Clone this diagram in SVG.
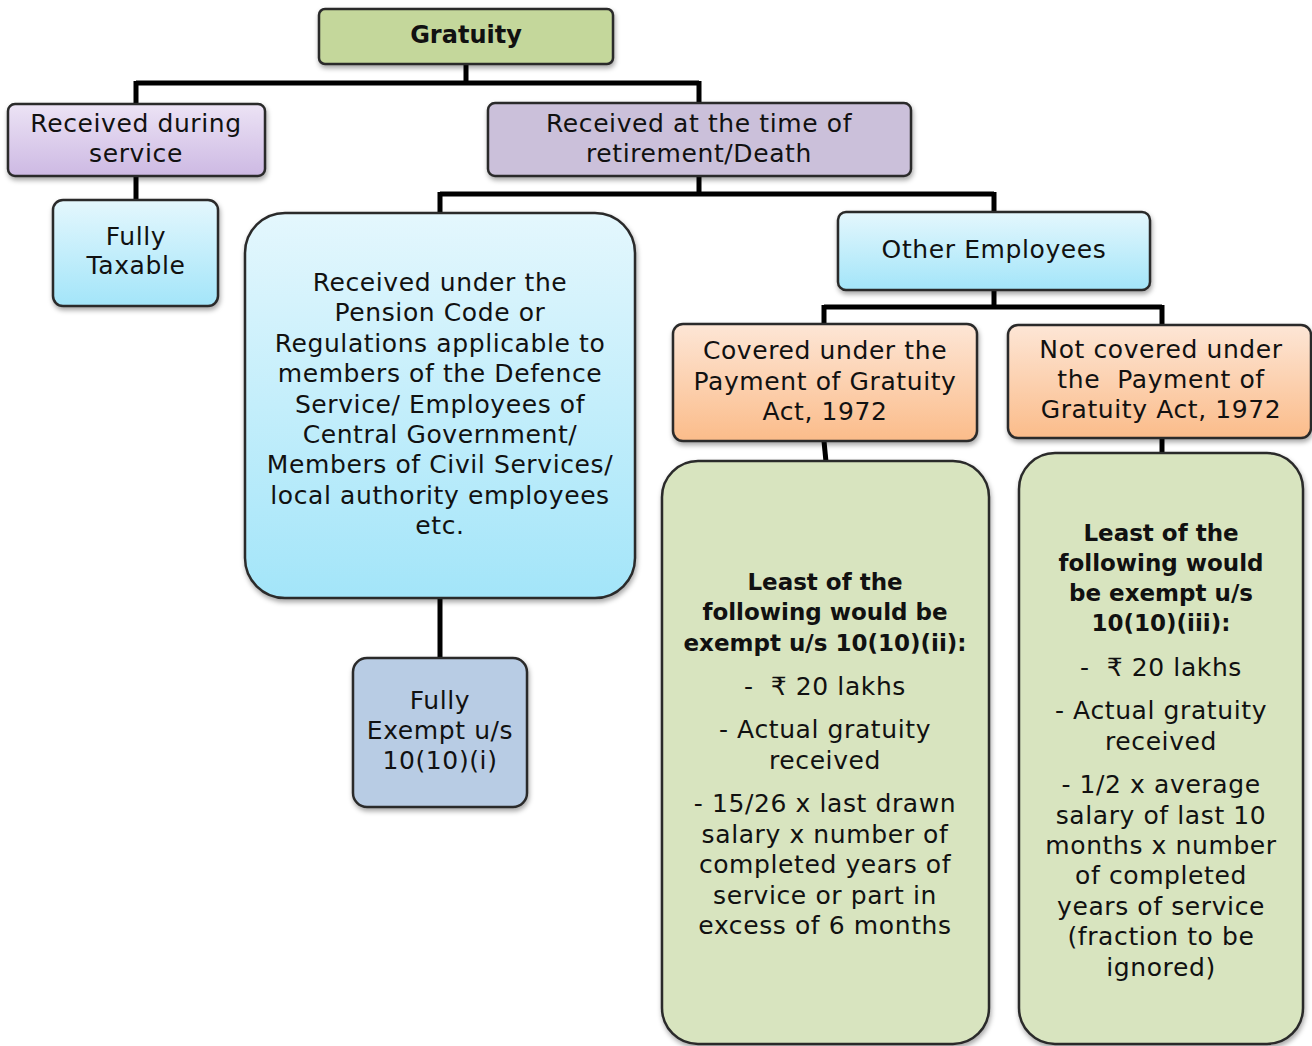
<svg xmlns="http://www.w3.org/2000/svg" width="1312" height="1046" viewBox="0 0 1312 1046">
<defs>
<linearGradient id="gPurple" x1="0" y1="0" x2="0" y2="1"><stop offset="0" stop-color="#ece3f5"/><stop offset="1" stop-color="#cdb9e3"/></linearGradient>
<linearGradient id="gBlue" x1="0" y1="0" x2="0" y2="1"><stop offset="0" stop-color="#e4f7fd"/><stop offset="1" stop-color="#a3e5f9"/></linearGradient>
<linearGradient id="gOrange" x1="0" y1="0" x2="0" y2="1"><stop offset="0" stop-color="#fde6d6"/><stop offset="1" stop-color="#fbbc8a"/></linearGradient>
<filter id="sh" x="-10%" y="-10%" width="120%" height="130%"><feDropShadow dx="1" dy="3" stdDeviation="2.5" flood-color="#000" flood-opacity="0.35"/></filter>
</defs>
<style>
.box{stroke:#2b2b2b;stroke-width:2.5;filter:url(#sh)}
.t{font-family:"DejaVu Sans","Noto Sans",sans-serif;font-size:25px;letter-spacing:0.6px;fill:#111;text-anchor:middle}
.b{font-weight:bold;font-size:23px;letter-spacing:0}
.g{font-size:24px}
.c{stroke:#000;stroke-width:5;fill:none}
</style>
<g id="connectors">
<path class="c" d="M466 64V83M136 83H699M136 81V104M699 81V103"/>
<path class="c" d="M136 176V200"/>
<path class="c" d="M699 176V194M440 194H994M440 192V214M994 192V213"/>
<path class="c" d="M994 290V307M824 307H1162M824 305V324M1162 305V325"/>
<path class="c" d="M824 441L826 462"/>
<path class="c" d="M1162 438V454"/>
<path class="c" d="M440 598V658"/>
</g>
<g id="gratuity">
<rect class="box" x="319" y="9" width="294" height="55" rx="6" fill="#c4d79b"/>
<text class="t b g" x="466" y="43">Gratuity</text>
</g>
<g id="during-service">
<rect class="box" x="8" y="104" width="257" height="72" rx="7" fill="url(#gPurple)"/>
<text class="t" x="136" y="132">Received during</text>
<text class="t" x="136" y="162">service</text>
</g>
<g id="retirement">
<rect class="box" x="488" y="103" width="423" height="73" rx="7" fill="#cbc0da"/>
<text class="t" x="699" y="132">Received at the time of</text>
<text class="t" x="699" y="162">retirement/Death</text>
</g>
<g id="fully-taxable">
<rect class="box" x="53" y="200" width="165" height="106" rx="10" fill="url(#gBlue)"/>
<text class="t" x="136" y="245">Fully</text>
<text class="t" x="136" y="274">Taxable</text>
</g>
<g id="pension">
<rect class="box" x="245" y="213" width="390" height="385" rx="40" fill="url(#gBlue)"/>
<text class="t" x="440" y="291">Received under the</text>
<text class="t" x="440" y="321">Pension Code or</text>
<text class="t" x="440" y="352">Regulations applicable to</text>
<text class="t" x="440" y="382">members of the Defence</text>
<text class="t" x="440" y="413">Service/ Employees of</text>
<text class="t" x="440" y="443">Central Government/</text>
<text class="t" x="440" y="473">Members of Civil Services/</text>
<text class="t" x="440" y="504">local authority employees</text>
<text class="t" x="440" y="534">etc.</text>
</g>
<g id="fully-exempt">
<rect class="box" x="353" y="658" width="174" height="149" rx="14" fill="#b8cce4"/>
<text class="t" x="440" y="709">Fully</text>
<text class="t" x="440" y="739">Exempt u/s</text>
<text class="t" x="440" y="769">10(10)(i)</text>
</g>
<g id="other-employees">
<rect class="box" x="838" y="212" width="312" height="78" rx="8" fill="url(#gBlue)"/>
<text class="t" x="994" y="258">Other Employees</text>
</g>
<g id="covered">
<rect class="box" x="673" y="324" width="304" height="117" rx="10" fill="url(#gOrange)"/>
<text class="t" x="825" y="359">Covered under the</text>
<text class="t" x="825" y="390">Payment of Gratuity</text>
<text class="t" x="825" y="420">Act, 1972</text>
</g>
<g id="not-covered">
<rect class="box" x="1008" y="325" width="303" height="113" rx="10" fill="url(#gOrange)"/>
<text class="t" x="1161" y="358">Not covered under</text>
<text class="t" x="1161" y="388" xml:space="preserve">the  Payment of</text>
<text class="t" x="1161" y="418">Gratuity Act, 1972</text>
</g>
<g id="exempt-ii">
<rect class="box" x="662" y="461" width="327" height="583" rx="36" fill="#d8e4bf"/>
<text class="t b" x="825" y="590">Least of the</text>
<text class="t b" x="825" y="620">following would be</text>
<text class="t b" x="825" y="651">exempt u/s 10(10)(ii):</text>
<text class="t" x="825" y="695" xml:space="preserve">-  ₹ 20 lakhs</text>
<text class="t" x="825" y="738">- Actual gratuity</text>
<text class="t" x="825" y="769">received</text>
<text class="t" x="825" y="812">- 15/26 x last drawn</text>
<text class="t" x="825" y="843">salary x number of</text>
<text class="t" x="825" y="873">completed years of</text>
<text class="t" x="825" y="904">service or part in</text>
<text class="t" x="825" y="934">excess of 6 months</text>
</g>
<g id="exempt-iii">
<rect class="box" x="1019" y="453" width="284" height="591" rx="36" fill="#d8e4bf"/>
<text class="t b" x="1161" y="541">Least of the</text>
<text class="t b" x="1161" y="571">following would</text>
<text class="t b" x="1161" y="601">be exempt u/s</text>
<text class="t b" x="1161" y="631">10(10)(iii):</text>
<text class="t" x="1161" y="676" xml:space="preserve">-  ₹ 20 lakhs</text>
<text class="t" x="1161" y="719">- Actual gratuity</text>
<text class="t" x="1161" y="750">received</text>
<text class="t" x="1161" y="793">- 1/2 x average</text>
<text class="t" x="1161" y="824">salary of last 10</text>
<text class="t" x="1161" y="854">months x number</text>
<text class="t" x="1161" y="884">of completed</text>
<text class="t" x="1161" y="915">years of service</text>
<text class="t" x="1161" y="945">(fraction to be</text>
<text class="t" x="1161" y="976">ignored)</text>
</g>
</svg>
